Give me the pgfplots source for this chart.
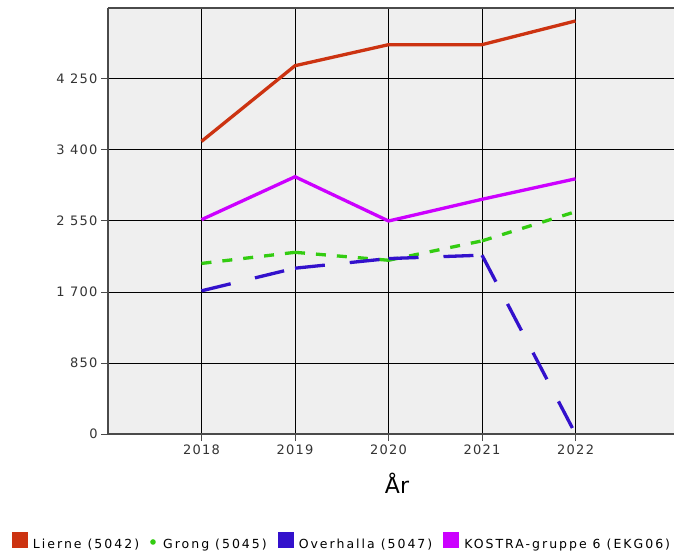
\documentclass[border=0pt]{standalone}
\usepackage{pgfplots}
\pgfplotsset{compat=1.18}
\usepackage{fontspec}
\setmainfont{DejaVu Sans}
\newfontfamily\tickfont[LetterSpace=10]{DejaVu Sans}
\newfontfamily\legfont[LetterSpace=16]{DejaVu Sans}
\definecolor{cLierne}{HTML}{CC3311}
\definecolor{cGrong}{HTML}{33CC11}
\definecolor{cOver}{HTML}{3311CC}
\definecolor{cKostra}{HTML}{CC00FF}
\definecolor{bggray}{HTML}{EFEFEF}
\definecolor{axisgray}{HTML}{4A4A4A}
\definecolor{tickgray}{HTML}{333333}
\begin{document}
\begin{tikzpicture}
\begin{axis}[
  at={(0,0)}, anchor=south west,
  scale only axis, width=566bp, height=426bp,
  xmin=2017, xmax=2023.053, ymin=0, ymax=5100,
  axis x line=bottom, axis y line=left,
  axis line style={-, draw=axisgray, line width=1.5bp},
  axis background/.style={fill=bggray},
  xtick={2018,2019,2020,2021,2022},
  xticklabels={2018,2019,2020,2021,2022},
  ytick={0,850,1700,2550,3400,4250},
  yticklabels={0,850,1 700,2 550,3 400,4 250},
  grid=major, major grid style={black, line width=1bp},
  tick align=outside, major tick length=7bp,
  tick style={axisgray, line width=1bp},
  ticklabel style={font=\tickfont\fontsize{13bp}{15bp}\selectfont, text=tickgray},
  xlabel={År},
  xlabel style={font=\fontsize{22bp}{26bp}\selectfont, at={(axis description cs:0.5106,0)}, anchor=center, yshift=-49bp},
  unbounded coords=jump,
  legend columns=4,
  legend style={at={(-0.1696,-0.2300)}, anchor=north west, draw=none, fill=none,
    inner sep=0pt, outer sep=0pt,
    font=\legfont\fontsize{12.5bp}{14bp}\selectfont,
    /tikz/every odd column/.append style={column sep=3bp},
    /tikz/every even column/.append style={column sep=9bp}},
  legend cell align=left,
]
\draw[axisgray, line width=1.5bp] (rel axis cs:0,1) -- (rel axis cs:1,1);

% Lierne (5042)
\addplot[cLierne, line width=3.3bp,
  legend image code/.code={\fill[cLierne, draw=none, solid] (0bp,-3bp) rectangle (16bp,13bp);}]
  coordinates {(2018,3503) (2019,4409) (2020,4661) (2021,4661) (2022,4945)};
\addlegendentry{Lierne (5042)}

% Grong (5045) -- dash pattern restarts at each year (separate subpaths)
\addplot[cGrong, line width=3.3bp, dash pattern=on 10bp off 11bp,
  legend image code/.code={\path[draw=none] (0bp,0bp) rectangle (8bp,0bp); \fill[cGrong, draw=none, solid] (2.8bp,3bp) circle (2.8bp);}]
  coordinates {(2018,2042) (2019,2175) (2019,nan) (2019,2175) (2020,2080) (2020,nan) (2020,2080) (2021,2312) (2021,nan) (2021,2312) (2022,2661)};
\addlegendentry{Grong (5045)}

% Overhalla (5047)
\addplot[cOver, line width=3.3bp, dash pattern=on 30bp off 25bp,
  legend image code/.code={\fill[cOver, draw=none, solid] (0bp,-3bp) rectangle (16bp,13bp);}]
  coordinates {(2018,1714) (2019,1985) (2019,nan) (2019,1985) (2020,2100) (2020,nan) (2020,2100) (2021,2141) (2021,nan) (2021,2141) (2022,0)};
\addlegendentry{Overhalla (5047)}

% KOSTRA-gruppe 6 (EKG06)
\addplot[cKostra, line width=3.3bp,
  legend image code/.code={\fill[cKostra, draw=none, solid] (0bp,-3bp) rectangle (16bp,13bp);}]
  coordinates {(2018,2566) (2019,3080) (2020,2550) (2021,2810) (2022,3055)};
\addlegendentry{KOSTRA-gruppe 6 (EKG06)}
\end{axis}
\pgfresetboundingbox
\useasboundingbox (-108bp,-119bp) rectangle (566bp,434bp);
\end{tikzpicture}
\end{document}
